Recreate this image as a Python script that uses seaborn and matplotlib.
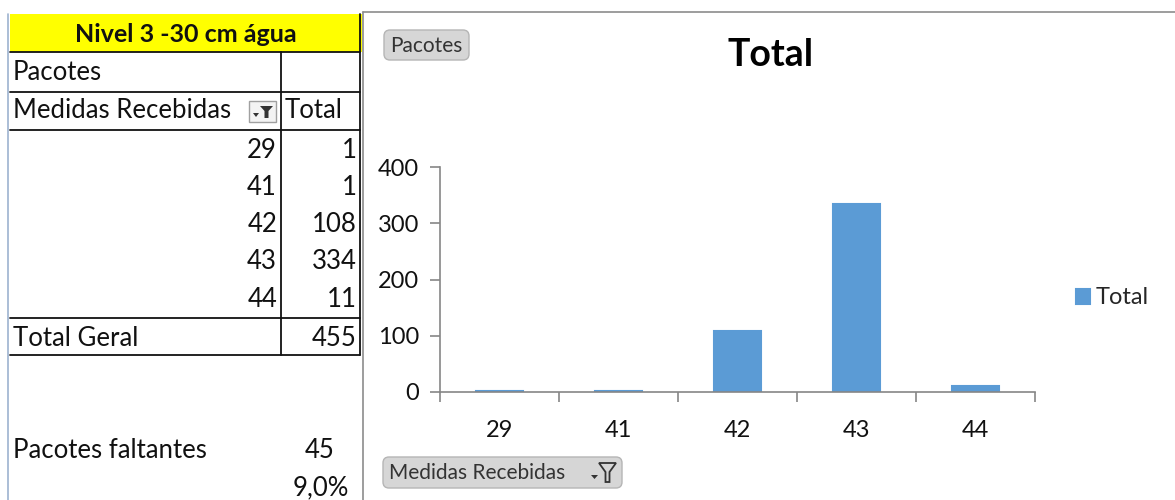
import matplotlib
matplotlib.use("Agg")
import matplotlib.pyplot as plt
import seaborn as sns
import pandas as pd
import numpy as np
from matplotlib.patches import Rectangle, FancyBboxPatch, Polygon
from matplotlib.lines import Line2D

# ---- data ----
medidas = ["29", "41", "42", "43", "44"]
totais = [1, 1, 108, 334, 11]
total_geral = 455
faltantes = 45
faltantes_pct = "9,0%"
y_ticks = [0, 100, 200, 300, 400]

sns.set_theme(style="white")
plt.rcParams['font.family'] = ['Lato', 'DejaVu Sans']

W, H = 1175, 500
fig = plt.figure(figsize=(W / 100, H / 100), dpi=100)

# background canvas in pixel coords
bg = fig.add_axes([0, 0, 1, 1])
bg.set_xlim(0, W)
bg.set_ylim(H, 0)
bg.axis("off")

fs = 18.5
black = "#111111"
# excel gridline on the far left
bg.add_line(Line2D([8, 8], [14, 500], color="#9db3d0", lw=1.2))
# yellow header
bg.add_patch(Rectangle((10, 14), 352, 38, facecolor="#ffff00", edgecolor="none"))
bg.text(186, 34, "Nivel 3 -30 cm água", ha="center", va="center", fontsize=18, fontweight="bold", color=black)

# table lines
for y in [52, 92, 130, 318, 355]:
    bg.add_line(Line2D([10, 360], [y, y], color=black, lw=1.3))
bg.add_line(Line2D([281, 281], [52, 355], color=black, lw=1.3))
bg.add_line(Line2D([360, 360], [14, 355], color=black, lw=1.3))

bg.text(13, 73, "Pacotes", ha="left", va="center", fontsize=fs, color=black)
bg.text(13, 111, "Medidas Recebidas", ha="left", va="center", fontsize=fs, color=black)

# small filter button in the table
bg.add_patch(Rectangle((249, 101), 27, 21, facecolor="#f3f3f3", edgecolor="#a0a0a0", lw=1))
bg.add_patch(Polygon([[260, 106], [273, 106], [268.5, 111], [268.5, 118], [264.5, 118], [264.5, 111]],
                     closed=True, facecolor="#333333", edgecolor="none"))
bg.add_patch(Polygon([[253, 113], [259, 113], [256, 117]], closed=True, facecolor="#333333", edgecolor="none"))
bg.text(285, 111, "Total", ha="left", va="center", fontsize=fs, color=black)

row_y0 = 150
row_h = 37.3
for i, (m, t) in enumerate(zip(medidas, totais)):
    y = row_y0 + i * row_h
    bg.text(277, y, m, ha="right", va="center", fontsize=fs, color=black)
    bg.text(357, y, str(t), ha="right", va="center", fontsize=fs, color=black)

bg.text(13, 338, "Total Geral", ha="left", va="center", fontsize=fs, color=black)
bg.text(357, 338, str(total_geral), ha="right", va="center", fontsize=fs, color=black)

bg.text(13, 451, "Pacotes faltantes", ha="left", va="center", fontsize=fs, color=black)
bg.text(320, 451, str(faltantes), ha="center", va="center", fontsize=fs, color=black)
bg.text(349, 488, faltantes_pct, ha="right", va="center", fontsize=fs, color=black)

# chart area border
bg.add_line(Line2D([363, 363], [12, 500], color="#8c8c8c", lw=1.2))
bg.add_line(Line2D([363, 1175], [12, 12], color="#8c8c8c", lw=1.2))

# buttons
def button(x, y, w, h, label):
    bg.add_patch(FancyBboxPatch((x, y), w, h, boxstyle="round,pad=0,rounding_size=6",
                                facecolor="#d6d6d6", edgecolor="#b5b5b5", lw=1))
    bg.text(x + 6, y + h / 2 + 0.5, label, ha="left", va="center", fontsize=15, color="#333333")

button(384, 30, 85, 30, "Pacotes")
button(383, 457, 239, 31, "Medidas Recebidas")
# funnel icon on the axis button
bg.add_patch(Polygon([[599, 463], [616, 463], [609.5, 472], [609.5, 482], [605.5, 482], [605.5, 472]],
                     closed=True, facecolor="none", edgecolor="#333333", lw=1.3))
bg.add_patch(Polygon([[591, 475], [598, 475], [594.5, 479]], closed=True, facecolor="#333333", edgecolor="none"))

bg.text(771, 55, "Total", ha="center", va="center", fontsize=27, fontweight="bold", color="#000000")

# ---- bar chart ----
ax = fig.add_axes([440 / W, 1 - 392 / H, (1035 - 440) / W, (392 - 167) / H])
df = pd.DataFrame({"Medidas": medidas, "Total": totais})
sns.barplot(data=df, x="Medidas", y="Total", color="#5b9bd5", width=0.4, saturation=1, ax=ax,
            label="Total", edgecolor="#5b9bd5", linewidth=1.5)
ax.set_ylim(0, 400)
ax.set_xlim(-0.5, len(medidas) - 0.5)
ax.set_yticks(y_ticks)
ax.set_xlabel("")
ax.set_ylabel("")
ax.patch.set_alpha(0)
for s in ["top", "right"]:
    ax.spines[s].set_visible(False)
for s in ["left", "bottom"]:
    ax.spines[s].set_color("#868686")
    ax.spines[s].set_linewidth(1.2)
    ax.spines[s].set_zorder(3)
ax.tick_params(axis="y", which="major", length=7, width=1.2, color="#868686", direction="out",
               labelsize=17, labelcolor="#111111", pad=8, left=True)
ax.tick_params(axis="x", which="major", length=0, labelsize=17, labelcolor="#111111", pad=20)
ax.set_xticks(np.arange(-0.5, len(medidas)), minor=True)
ax.tick_params(axis="x", which="minor", length=7, width=1.2, color="#868686", direction="out", bottom=True)

leg = ax.legend(loc="center left", bbox_to_anchor=((1076 - 440) / (1035 - 440), (392 - 298) / (392 - 167)),
                frameon=False, fontsize=17, handlelength=0.6, handleheight=0.6, handletextpad=0.25,
                borderaxespad=0, borderpad=0)

fig.savefig("out.png", dpi=100)
